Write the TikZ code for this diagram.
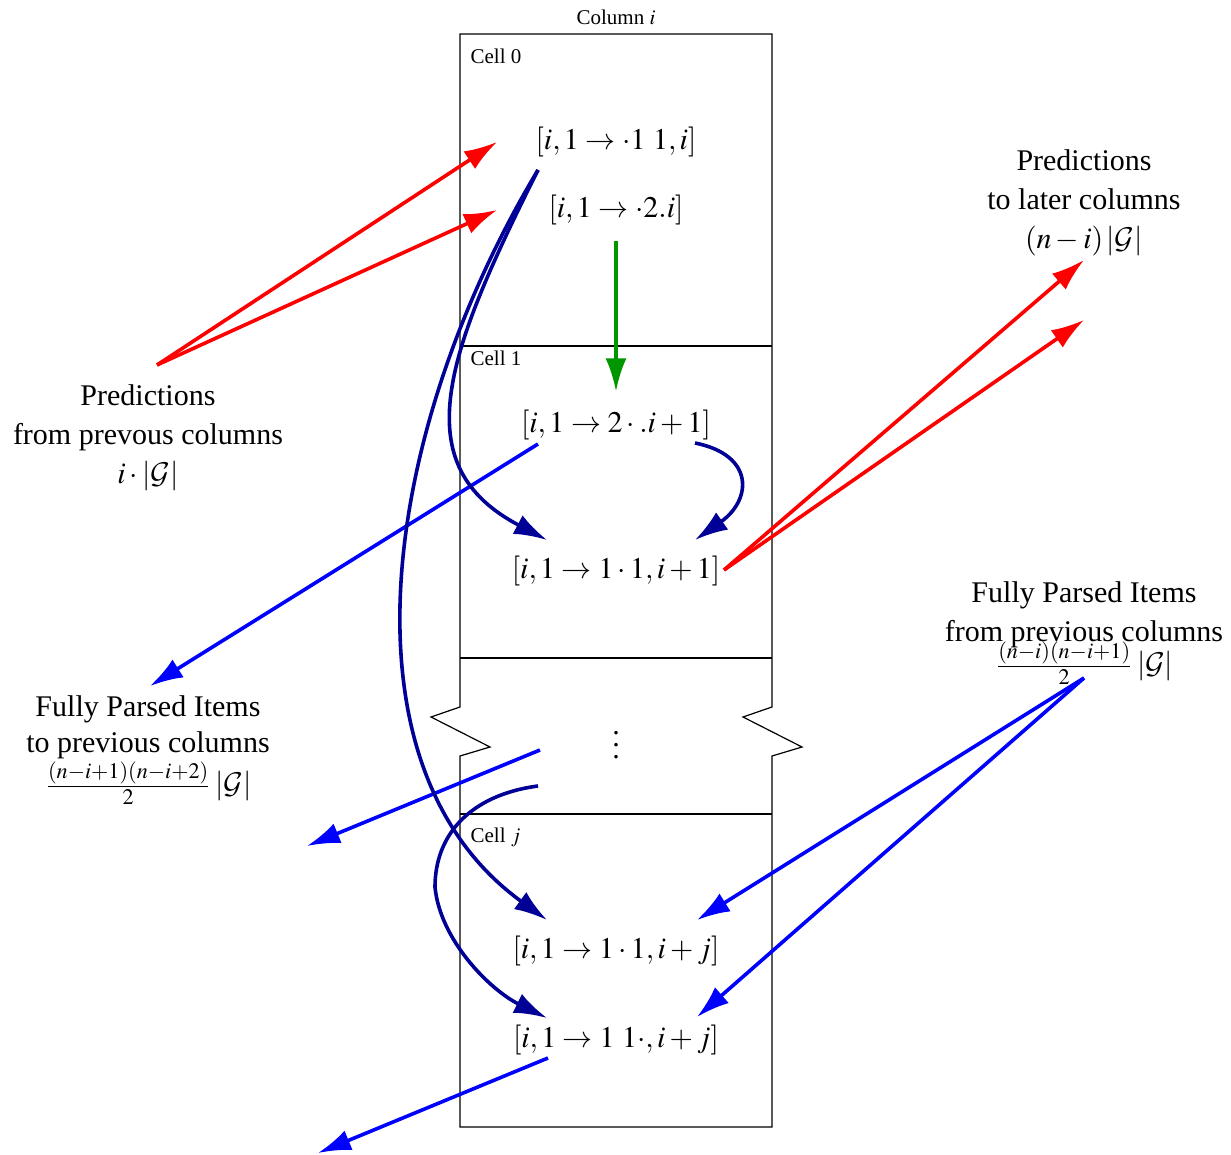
\documentclass[tikz,border=0pt]{standalone}
\usepackage{mathptmx}
\usepackage[no-math]{fontspec}
\setmainfont{Liberation Serif}
\DeclareMathAlphabet{\mathcal}{OMS}{cmsy}{m}{n}
\usetikzlibrary{arrows.meta}

\definecolor{predRed}{RGB}{255,0,0}
\definecolor{fullBlue}{RGB}{0,0,255}
\definecolor{chainNavy}{RGB}{0,0,150}
\definecolor{scanGreen}{RGB}{0,150,0}

\begin{document}
\begin{tikzpicture}[x=0.3333pt,y=0.3333pt,yscale=-1,xscale=1,
	item/.style={inner sep=1pt},
	cellText/.style={font=\scriptsize, inner sep=0pt},
	lbl/.style={align=center, inner sep=0pt},
	tipHead/.style={-{Latex[length=11pt,width=7pt]}},
	predArrow/.style={tipHead, draw=predRed, line width=1.2pt},
	fullArrow/.style={tipHead, draw=fullBlue, line width=1.2pt},
	chainArrow/.style={tipHead, draw=chainNavy, line width=1.2pt},
	scanArrow/.style={tipHead, draw=scanGreen, line width=1.2pt}]
		\useasboundingbox (0,0) rectangle (1231,1155);
		
		%column with its cells, broken between cell 1 and cell j
		\draw (460,707) -- (460,34) -- (772,34) -- (772,707) -- (743,717) -- (802,747) -- (772,756) -- (772,1127) -- (460,1127) -- (460,756) -- (490,747) -- (431,717) -- cycle ;
		\draw (460,346) -- (772,346) ;
		\draw (460,658) -- (772,658) ;
		\draw (460,814) -- (772,814) ;
		
		\node (colLbl) [cellText] at (616,17) {Column $i$};
		\node (cellZero) [cellText, anchor=west] at (470,56) {Cell 0};
		\node (cellOne) [cellText, anchor=west] at (470,358) {Cell 1};
		\node (cellJ) [cellText, anchor=west] at (470,837) {Cell $j$};
		\node (gapDots) at (616,736) {$\vdots$};
		
		%items
		\node (predItem) [item] at (616,142) {$[i,1\rightarrow \cdot 1\ 1,i]$};
		\node (predTwo) [item] at (616,210) {$[i,1\rightarrow \cdot 2.i]$};
		\node (scanItem) [item] at (616,425) {$[i,1\rightarrow 2\cdot .i+1]$};
		\node (compOne) [item] at (616,571) {$[i,1\rightarrow 1\cdot 1,i+1]$};
		\node (compJ) [item] at (616,951) {$[i,1\rightarrow 1\cdot 1,i+j]$};
		\node (doneJ) [item] at (616,1040) {$[i,1\rightarrow 1\ 1\cdot ,i+j]$};
		
		%side labels
		\node (predFromLbl) [lbl] at (148,438) {Predictions\\[1pt] from prevous columns\\[1pt] $i\cdot|\mathcal{G}|$};
		\node (predToLbl) [lbl] at (1084,203) {Predictions\\[1pt] to later columns\\[1pt] $(n-i)\,|\mathcal{G}|$};
		\node (fullFromLbl) [lbl] at (1084,633) {Fully Parsed Items\\[1pt] from previous columns\\[-3pt] $\frac{(n-i)(n-i+1)}{2}\,|\mathcal{G}|$};
		\node (fullToLbl) [lbl] at (148,750) {Fully Parsed Items\\ to previous columns\\ $\frac{(n-i+1)(n-i+2)}{2}\,|\mathcal{G}|$};
		
		%free ends
		\coordinate (pfOut) at (157,365);
		\coordinate (pfInA) at (497,142);
		\coordinate (pfInB) at (497,210);
		\coordinate (plOut) at (724,570);
		\coordinate (plTipA) at (1084,260);
		\coordinate (plTipB) at (1084,320);
		\coordinate (ffOut) at (1084,678);
		\coordinate (ffInA) at (697,920);
		\coordinate (ffInB) at (697,1017);
		\coordinate (scanOut) at (538,444);
		\coordinate (ftTip) at (150,686);
		\coordinate (gapOut) at (540,750);
		\coordinate (gapTip) at (307,846);
		\coordinate (doneOut) at (548,1058);
		\coordinate (doneTip) at (318,1153);
		\coordinate (predOut) at (538,170);
		\coordinate (chainIn) at (695,443);
		\coordinate (chainTip) at (695,540);
		\coordinate (gapChain) at (538,786);
		
		%predictions
		\draw [predArrow] (pfOut) -- (pfInA) ;
		\draw [predArrow] (pfOut) -- (pfInB) ;
		\draw [predArrow] (plOut) -- (plTipA) ;
		\draw [predArrow] (plOut) -- (plTipB) ;
		
		%scan
		\draw [scanArrow] ([yshift=4pt]predTwo.south) -- ([yshift=-5pt]scanItem.north) ;
		
		%fully parsed items
		\draw [fullArrow] (scanOut) -- (ftTip) ;
		\draw [fullArrow] (gapOut) -- (gapTip) ;
		\draw [fullArrow] (doneOut) -- (doneTip) ;
		\draw [fullArrow] (ffOut) -- (ffInA) ;
		\draw [fullArrow] (ffOut) -- (ffInB) ;
		
		%completions
		\draw [chainArrow] (predOut) .. controls (382,430) and (334,766) .. (547,920) ;
		\draw [chainArrow] (predOut) .. controls (446,354) and (404,465) .. (547,540) ;
		\draw [chainArrow] (chainIn) .. controls (755,455) and (752,500) .. (chainTip) ;
		\draw [chainArrow] (gapChain) .. controls (470,795) and (435,835) .. (435,887) .. controls (440,940) and (490,990) .. (547,1018) ;
		
\end{tikzpicture}
\end{document}
